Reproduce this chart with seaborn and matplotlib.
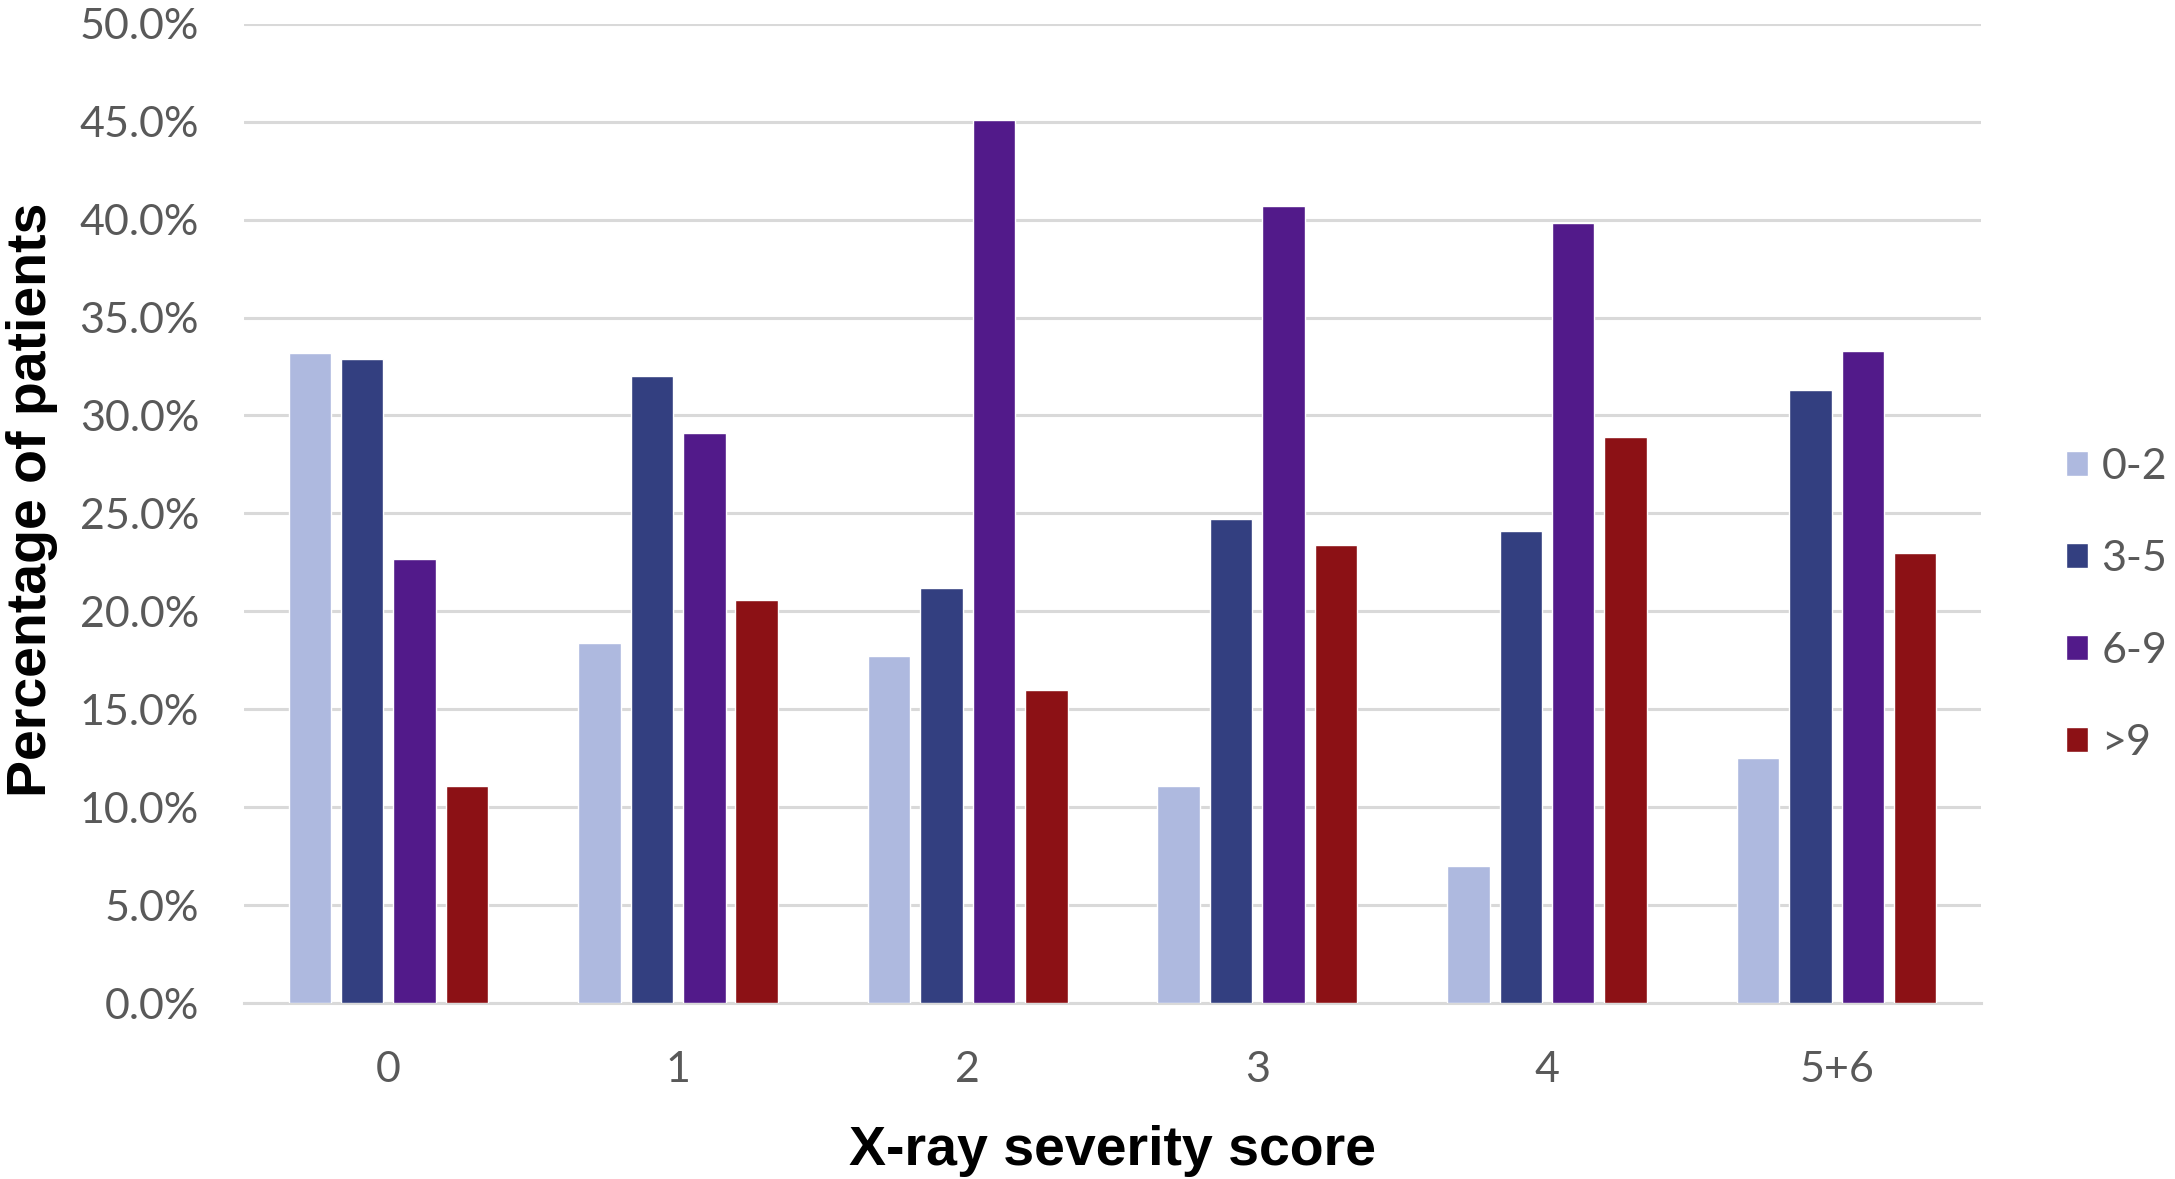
import matplotlib
matplotlib.use("Agg")
import matplotlib.pyplot as plt
import seaborn as sns
import pandas as pd
from matplotlib.ticker import FuncFormatter, MultipleLocator

categories = ["0", "1", "2", "3", "4", "5+6"]
groups = ["0-2", "3-5", "6-9", ">9"]
vals_0_2 = [33.2, 18.4, 17.7, 11.1, 7.0, 12.5]
vals_3_5 = [32.9, 32.0, 21.2, 24.7, 24.1, 31.3]
vals_6_9 = [22.7, 29.1, 45.1, 40.7, 39.8, 33.3]
vals_gt9 = [11.1, 20.6, 16.0, 23.4, 28.9, 23.0]
colors = ["#AEB9DF", "#333F80", "#521A8A", "#8C1115"]

rows = []
for g, vals in zip(groups, [vals_0_2, vals_3_5, vals_6_9, vals_gt9]):
    for c, v in zip(categories, vals):
        rows.append({"score": c, "group": g, "pct": v})
df = pd.DataFrame(rows)

sns.set_theme(style="white")
plt.rcParams["font.family"] = ["Lato", "DejaVu Sans"]

fig = plt.figure(figsize=(21.75, 11.79), dpi=100)
ax = fig.add_axes([0.112, 0.149, 0.799, 0.831])

sns.barplot(data=df, x="score", y="pct", hue="group", order=categories,
            hue_order=groups, palette=colors, width=0.724, gap=0.19,
            saturation=1, ax=ax, legend=True, zorder=3)

ax.set_ylim(0, 50)
ax.yaxis.set_major_locator(MultipleLocator(5))
ax.yaxis.set_major_formatter(FuncFormatter(lambda v, p: f"{v:.1f}%"))
ax.grid(axis="y", color="#D9D9D9", linewidth=2.2, zorder=0)
ax.set_axisbelow(True)
for s in ["top", "right", "left"]:
    ax.spines[s].set_visible(False)
ax.spines["bottom"].set_color("#D9D9D9")
ax.spines["bottom"].set_linewidth(2.2)
ax.tick_params(axis="both", length=0, labelsize=31, labelcolor="#595959")
ax.tick_params(axis="y", pad=32)
ax.tick_params(axis="x", pad=34)
ax.set_xlim(-0.5, 5.5)

ax.set_xlabel("X-ray severity score", fontsize=40, fontweight="bold",
              family=["Liberation Sans", "DejaVu Sans"], color="black", labelpad=26)
ax.set_ylabel("Percentage of patients", fontsize=40, fontweight="bold",
              family=["Liberation Sans", "DejaVu Sans"], color="black")
ax.yaxis.set_label_coords(-0.107, 0.514)

handles, labels = ax.get_legend_handles_labels()
ax.get_legend().remove()
leg = fig.legend(handles, labels, loc="center left", bbox_to_anchor=(0.942, 0.487),
                 frameon=False, fontsize=31, handlelength=0.52, handleheight=0.52,
                 handletextpad=0.3, labelspacing=1.25, borderaxespad=0)
for t in leg.get_texts():
    t.set_color("#595959")

fig.savefig("out.png", dpi=100)
